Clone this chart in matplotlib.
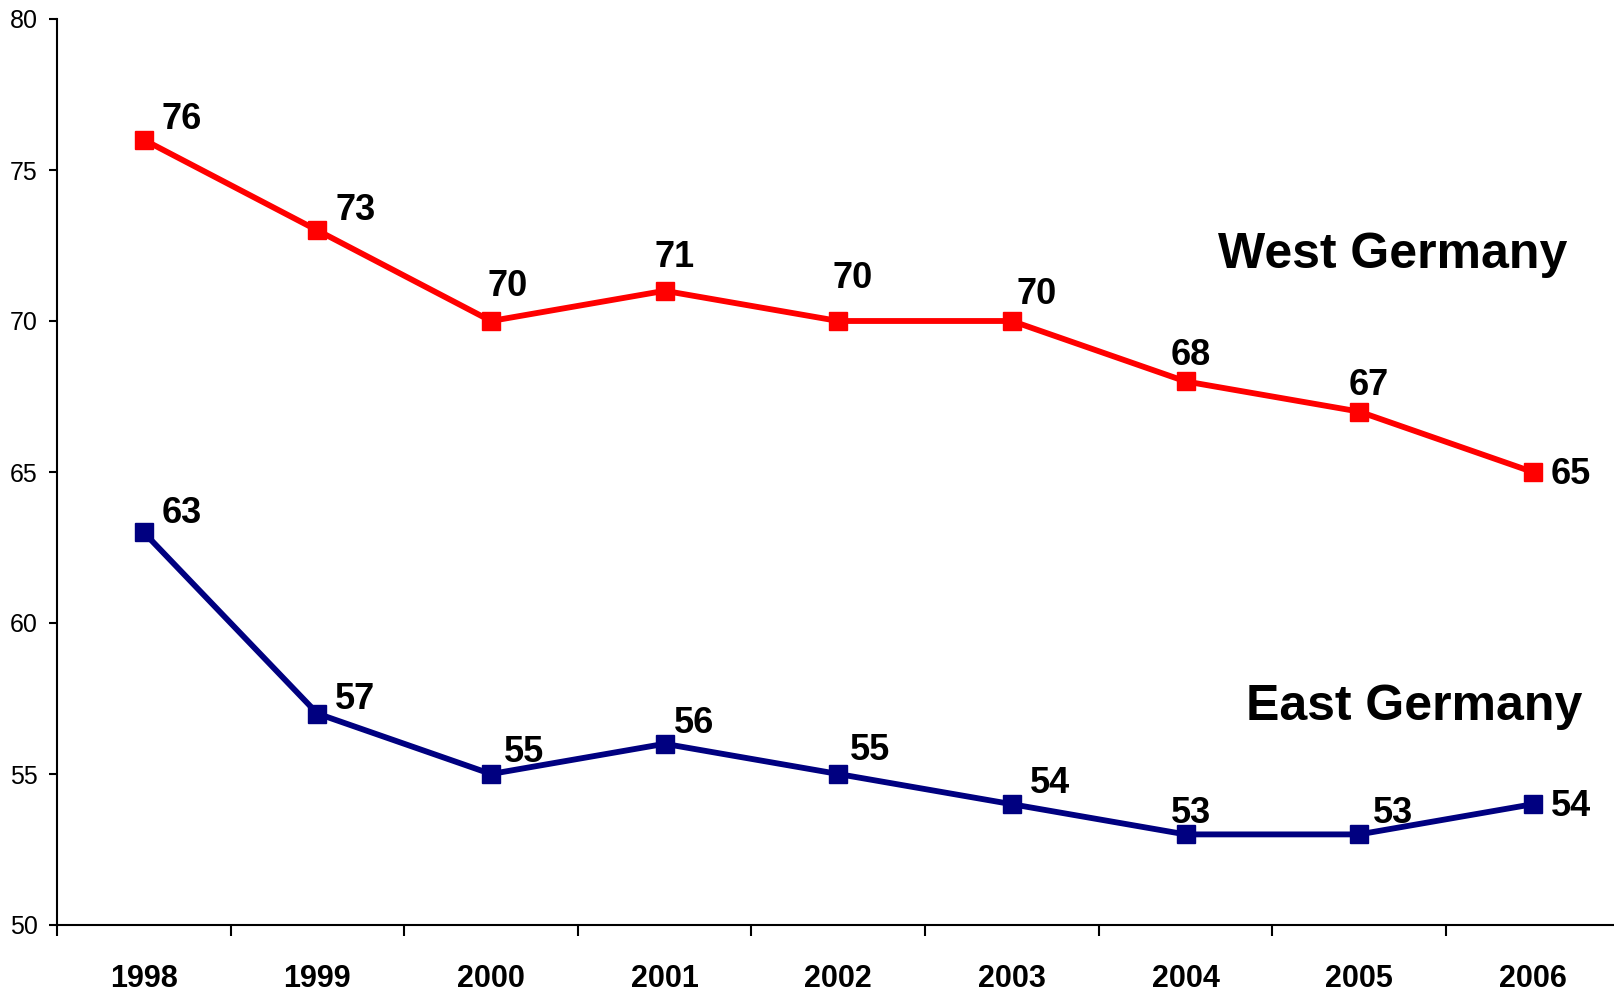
import matplotlib
matplotlib.use("Agg")
import matplotlib.pyplot as plt
from matplotlib.ticker import FixedLocator, NullFormatter

plt.rcParams['font.family'] = ['Liberation Sans Narrow', 'Liberation Sans', 'DejaVu Sans']

years = ["1998", "1999", "2000", "2001", "2002", "2003", "2004", "2005", "2006"]
west = [76, 73, 70, 71, 70, 70, 68, 67, 65]
east = [63, 57, 55, 56, 55, 54, 53, 53, 54]
yticks = [50, 55, 60, 65, 70, 75, 80]

# label offsets in pixels (dx, dy) relative to each marker
west_off = [(38, 20), (38, 20), (17, 34), (10, 33), (14, 43), (25, 26), (5, 26), (10, 26), (38, -2)]
east_off = [(38, 19), (38, 14), (33, 22), (29, 20), (32, 24), (38, 21), (5, 21), (34, 21), (38, -2)]

W, H, DPI = 1614, 991, 100
fig = plt.figure(figsize=(W / DPI, H / DPI), dpi=DPI)
left, right, bottom, top = 57, 1619.6, 925, 19
ax = fig.add_axes([left / W, 1 - bottom / H, (right - left) / W, (bottom - top) / H])

x = list(range(len(years)))
ax.plot(x, west, color='#FF0000', lw=4.2, marker='s', ms=12.5, mec='#FF0000', mfc='#FF0000', clip_on=False)
ax.plot(x, east, color='#000080', lw=4.2, marker='s', ms=12.5, mec='#000080', mfc='#000080', clip_on=False)

for xi, v, (dx, dy) in zip(x, west, west_off):
    ax.annotate(str(v), (xi, v), xytext=(dx, dy), textcoords='offset pixels',
                ha='center', va='center', fontsize=26, fontweight='bold', zorder=5)
for xi, v, (dx, dy) in zip(x, east, east_off):
    ax.annotate(str(v), (xi, v), xytext=(dx, dy), textcoords='offset pixels',
                ha='center', va='center', fontsize=26, fontweight='bold', zorder=5)

ax.text(1393 / W, 1 - 255 / H, "West Germany", transform=fig.transFigure,
        ha='center', va='center', fontsize=36, fontweight='bold')
ax.text(1414 / W, 1 - 707 / H, "East Germany", transform=fig.transFigure,
        ha='center', va='center', fontsize=36, fontweight='bold')

ax.set_xlim(-0.5, len(years) - 0.5)
ax.set_ylim(50, 80)
ax.set_yticks(yticks)
ax.set_yticklabels([str(t) for t in yticks])
ax.tick_params(axis='y', direction='out', length=6, width=1.5, pad=8, labelsize=18)

ax.xaxis.set_major_locator(FixedLocator([i - 0.5 for i in range(len(years) + 1)]))
ax.xaxis.set_major_formatter(NullFormatter())
ax.xaxis.set_minor_locator(FixedLocator(x))
ax.set_xticklabels(years, minor=True, fontsize=22, fontweight='bold')
ax.tick_params(axis='x', which='major', direction='out', length=8, width=1.5)
ax.tick_params(axis='x', which='minor', length=0, pad=28)

for s in ['top', 'right']:
    ax.spines[s].set_visible(False)
for s in ['left', 'bottom']:
    ax.spines[s].set_linewidth(1.5)

fig.savefig("out.png", dpi=DPI)
